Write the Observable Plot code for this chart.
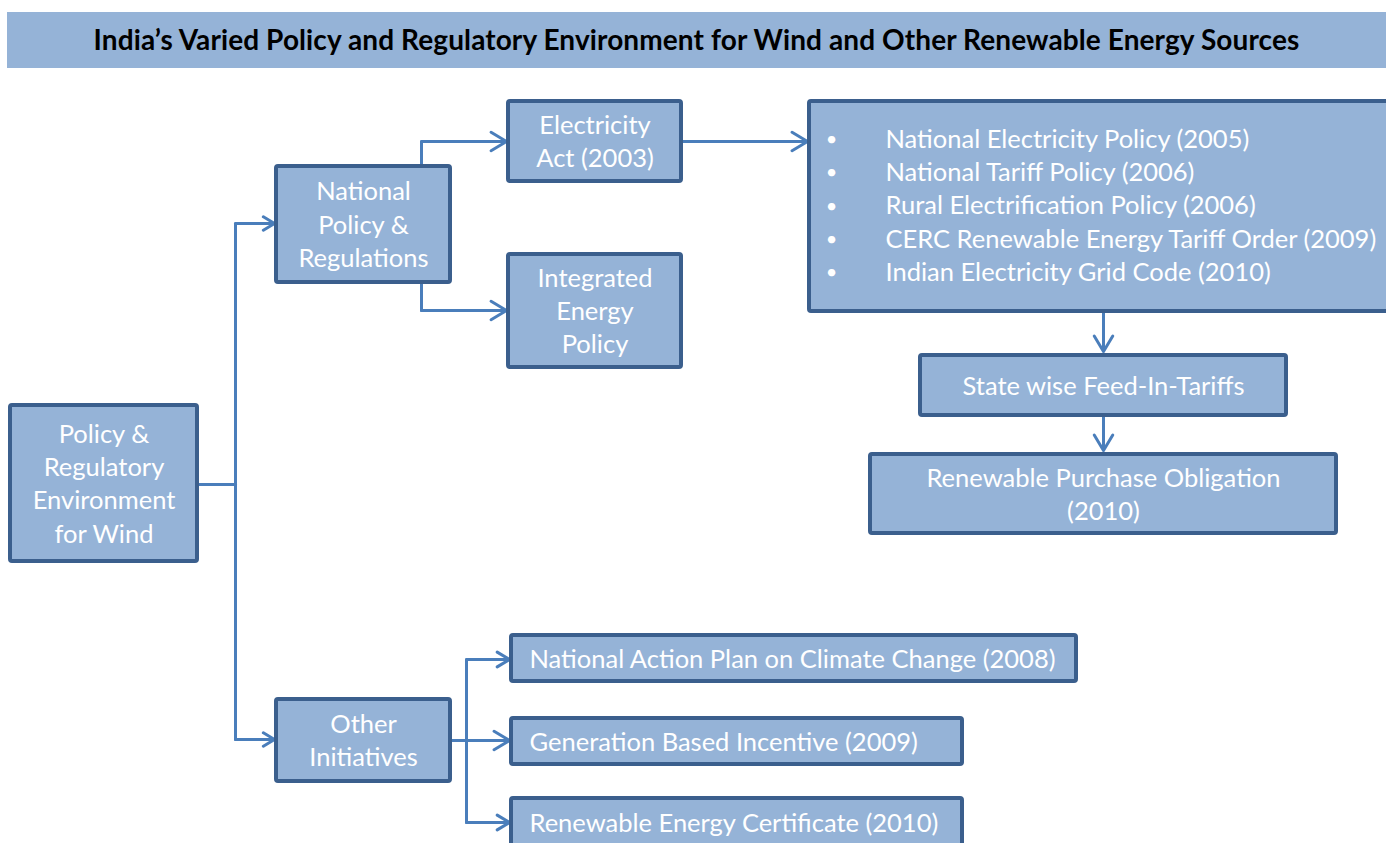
<!DOCTYPE html>
<html>
<head>
<meta charset="utf-8">
<script src="https://cdn.jsdelivr.net/npm/d3@7"></script>
<script src="https://cdn.jsdelivr.net/npm/@observablehq/plot@0.6"></script>
<style>
  html, body { margin: 0; padding: 0; background: #ffffff; overflow: hidden; }
  #title {
    margin: 12px 0 0 7px; width: 1379px; height: 56px; box-sizing: border-box;
    background: #95b3d7; color: #000; font-family: Lato, "Open Sans", sans-serif;
    font-weight: 700; font-size: 28px; letter-spacing: 0.1px; display: flex; align-items: center; justify-content: center;
    padding-bottom: 3px;
  }
  #chart svg { display: block; }
</style>
</head>
<body>
<div id="title"></div>
<div id="chart"></div>
<script>
// ---- content ----
const titleText = "India’s Varied Policy and Regulatory Environment for Wind and Other Renewable Energy Sources";
const boxIds = ["root", "national", "elecAct", "iep", "policies", "fit", "rpo", "other", "napcc", "gbi", "rec"];
const boxLabels = [
  "Policy &\nRegulatory\nEnvironment\nfor Wind",
  "National\nPolicy &\nRegulations",
  "Electricity\nAct (2003)",
  "Integrated\nEnergy\nPolicy",
  "",
  "State wise Feed-In-Tariffs",
  "Renewable Purchase Obligation\n(2010)",
  "Other\nInitiatives",
  "National Action Plan on Climate Change (2008)",
  "Generation Based Incentive (2009)",
  "Renewable Energy Certificate (2010)"
];
const policyItems = [
  "National Electricity Policy (2005)",
  "National Tariff Policy (2006)",
  "Rural Electrification Policy (2006)",
  "CERC Renewable Energy Tariff Order (2009)",
  "Indian Electricity Grid Code (2010)"
];
// connections (from -> to)
const linkFrom = ["root", "root", "national", "national", "elecAct", "policies", "fit", "other", "other", "other"];
const linkTo   = ["national", "other", "elecAct", "iep", "policies", "fit", "rpo", "napcc", "gbi", "rec"];

// ---- layout (page pixel geometry) ----
const W = 1386, H = 843, TOP = 68;
const layoutX1 = [10, 276, 508, 508, 809, 920, 870, 276, 511, 511, 511];
const layoutX2 = [197, 450, 681, 681, 1392, 1286, 1336, 450, 1076, 962, 962];
const layoutY1 = [405, 166, 101, 254, 101, 355, 454, 699, 635, 718, 798];
const layoutY2 = [561, 282, 181, 367, 311, 415, 533, 781, 681, 764, 846];
const leftAligned = new Set(["napcc", "gbi", "rec"]);

const boxes = boxIds.map((id, i) => ({
  id, label: boxLabels[i],
  x1: layoutX1[i], x2: layoutX2[i], y1: layoutY1[i], y2: layoutY2[i],
  left: leftAligned.has(id)
}));
const byId = Object.fromEntries(boxes.map(b => [b.id, b]));
const cy = b => (b.y1 + b.y2) / 2;
const cx = b => (b.x1 + b.x2) / 2;
const OUT = 2; // half border

// connector routing
const trunkRoot = 235, trunkOther = 466, trunkNational = 421;
const polylines = [];   // plain segments
const arrows = [];      // final segments with head
linkFrom.forEach((f, i) => {
  const a = byId[f], b = byId[linkTo[i]];
  const key = f + ">" + linkTo[i];
  if (f === "root") {
    const ty = cy(b) - 1;
    arrows.push({x1: trunkRoot, y1: ty, x2: b.x1 - OUT, y2: ty});
  } else if (f === "national") {
    const ty = linkTo[i] === "elecAct" ? 141 : 310;
    const sy = linkTo[i] === "elecAct" ? a.y1 : a.y2;
    polylines.push({id: key, pts: [[trunkNational, sy], [trunkNational, ty]]});
    arrows.push({x1: trunkNational, y1: ty, x2: b.x1 - OUT, y2: ty});
  } else if (f === "elecAct") {
    arrows.push({x1: a.x2, y1: 141, x2: b.x1 - OUT, y2: 141});
  } else if (f === "policies" || f === "fit") {
    arrows.push({x1: 1103, y1: a.y2 - 40, x2: 1103, y2: b.y1 - OUT - 2});
  } else if (f === "other") {
    const ty = linkTo[i] === "gbi" ? 740 : (linkTo[i] === "napcc" ? 659 : 822);
    if (linkTo[i] === "gbi") {
      arrows.push({x1: a.x2 - 60, y1: ty, x2: b.x1 - OUT, y2: ty});
    } else {
      polylines.push({id: key, pts: [[trunkOther, 740], [trunkOther, ty]]});
      arrows.push({x1: trunkOther, y1: ty, x2: b.x1 - OUT, y2: ty});
    }
  }
});
// root stub and trunk
polylines.push({id: "rootStub", pts: [[byId.root.x2, 484], [trunkRoot, 484]]});
polylines.push({id: "rootTrunk", pts: [[trunkRoot, cy(byId.national) - 1], [trunkRoot, cy(byId.other) - 1]]});

const linePts = polylines.flatMap(p => p.pts.map(([x, y]) => ({id: p.id, x, y})));

const textRows = boxes.filter(b => b.label).map(b => ({
  text: b.label,
  x: b.left ? 529 : cx(b),
  y: (b.id === "rec" ? 822 : cy(b)) - 1.5,
  left: b.left
}));
const itemRows = policyItems.map((t, i) => ({text: t, i}));

const LINE = "#4a7ebb", FILL = "#95b3d7", EDGE = "#3b5f8d";
const FS = 25.5;

document.getElementById("title").textContent = titleText;

const chart = Plot.plot({
  width: W, height: H - TOP, margin: 0,
  x: {domain: [0, W], range: [0, W], axis: null},
  y: {domain: [TOP, H], range: [0, H - TOP], axis: null},
  style: {fontFamily: "Lato, 'Open Sans', sans-serif", background: "#ffffff", overflow: "hidden"},
  marks: [
    Plot.line(linePts, {x: "x", y: "y", z: "id", stroke: LINE, strokeWidth: 3, strokeLinejoin: "miter", curve: "linear"}),
    Plot.arrow(arrows, {x1: "x1", y1: "y1", x2: "x2", y2: "y2", stroke: LINE, strokeWidth: 3, headLength: 9, headAngle: 62}),
    Plot.rect(boxes, {x1: "x1", x2: "x2", y1: "y1", y2: "y2", fill: FILL, stroke: EDGE, strokeWidth: 4, rx: 2}),
    Plot.text(textRows.filter(d => !d.left), {x: "x", y: "y", text: "text", textAnchor: "middle", fill: "#ffffff",
      fontSize: FS, lineHeight: 1.306, lineAnchor: "middle"}),
    Plot.text(textRows.filter(d => d.left), {x: "x", y: "y", text: "text", textAnchor: "start", fill: "#ffffff",
      fontSize: FS, lineHeight: 1.306, lineAnchor: "middle"}),
    Plot.text(itemRows, {x: () => 831, y: d => 139 + d.i * 33.3, text: () => "•", fill: "#ffffff", fontSize: 20, lineAnchor: "middle"}),
    Plot.text(itemRows, {x: () => 885, y: d => 139 + d.i * 33.3, text: "text", textAnchor: "start", fill: "#ffffff", fontSize: FS, lineAnchor: "middle"})
  ]
});
document.getElementById("chart").appendChild(chart);
</script>
</body>
</html>
